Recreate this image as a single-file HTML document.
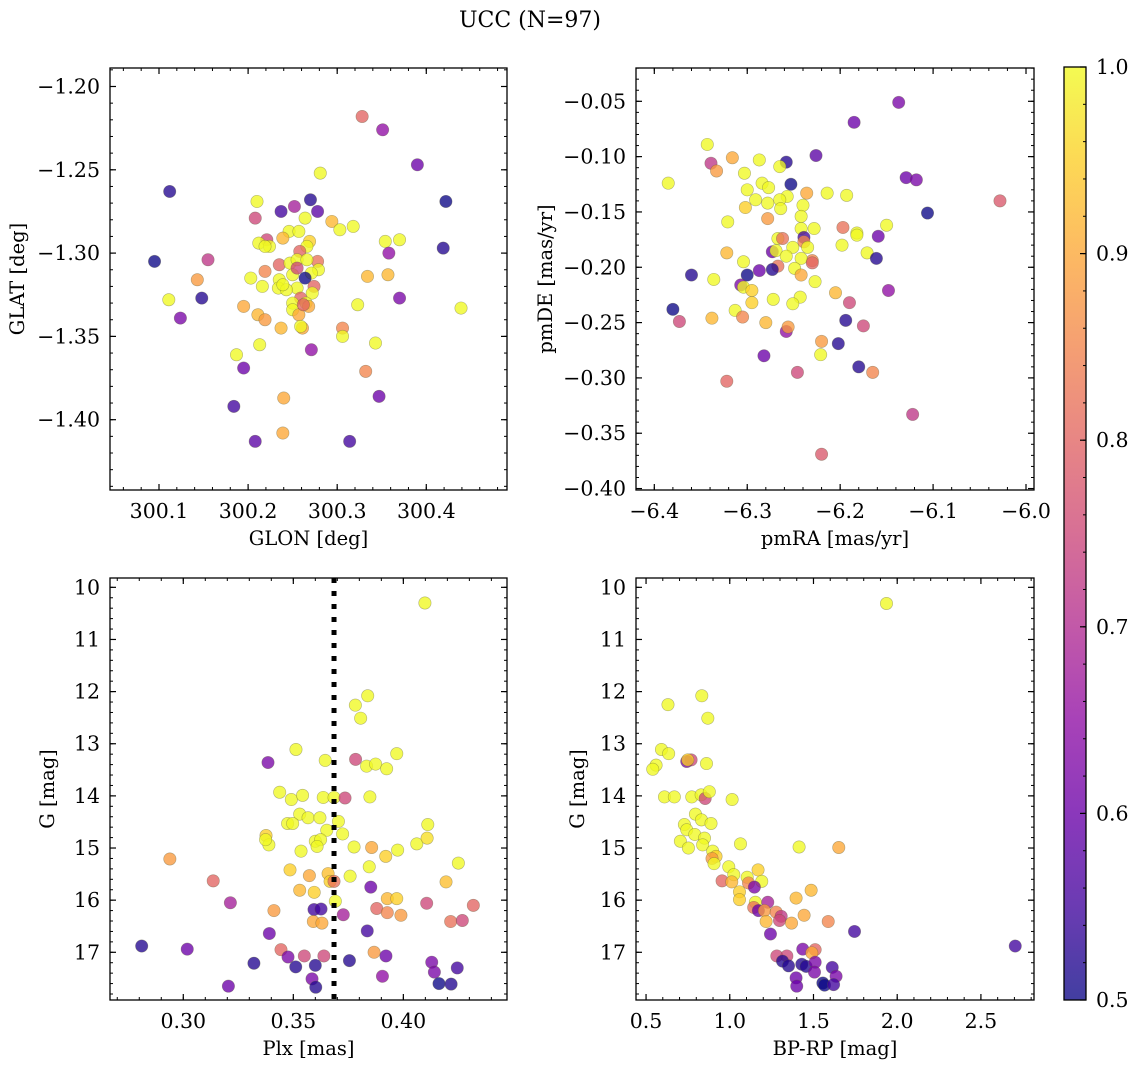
<!DOCTYPE html>
<html><head><meta charset="utf-8"><style>
html,body{margin:0;padding:0;background:#fff}
svg{display:block;font-family:"DejaVu Serif","Liberation Serif",serif}
</style></head><body>
<svg id="fig" width="1136" height="1067" viewBox="0 0 1136 1067" xmlns="http://www.w3.org/2000/svg">
<defs>
<linearGradient id="cbgrad" x1="0" y1="1" x2="0" y2="0">
<stop offset="0" stop-color="#0d0887"/><stop offset="0.1" stop-color="#41049d"/><stop offset="0.2" stop-color="#6a00a8"/><stop offset="0.3" stop-color="#8f0da4"/><stop offset="0.4" stop-color="#b12a90"/><stop offset="0.5" stop-color="#cc4778"/><stop offset="0.6" stop-color="#e16462"/><stop offset="0.7" stop-color="#f2844b"/><stop offset="0.8" stop-color="#fca636"/><stop offset="0.9" stop-color="#fcce25"/><stop offset="1" stop-color="#f0f921"/>
</linearGradient>
</defs>
<text x="530" y="27" font-size="22" text-anchor="middle">UCC (N=97)</text>
<g id="root"></g>
</svg>
<script>
// ---- Panel 1: GLON / GLAT ----
const glon=[300.328,300.351,300.390,300.281,300.112,300.422,300.210,300.270,300.237,300.252,300.278,300.208,300.264,300.294,300.318,300.303,300.246,300.257,300.239,300.269,300.221,300.212,300.224,300.219,300.266,300.354,300.370,300.358,300.419,300.095,300.155,300.258,300.235,300.247,300.255,300.278,300.266,300.279,300.219,300.271,300.250,300.264,300.143,300.334,300.357,300.203,300.235,300.216,300.274,300.255,300.234,300.243,300.272,300.111,300.148,300.370,300.259,300.265,300.250,300.268,300.323,300.439,300.195,300.250,300.257,300.211,300.124,300.219,300.237,300.261,300.259,300.306,300.306,300.343,300.213,300.271,300.187,300.195,300.332,300.347,300.240,300.184,300.239,300.208,300.314,300.255,300.239,300.262];
const glat=[-1.218,-1.226,-1.247,-1.252,-1.263,-1.269,-1.269,-1.268,-1.275,-1.272,-1.275,-1.279,-1.279,-1.281,-1.284,-1.286,-1.287,-1.287,-1.291,-1.293,-1.292,-1.294,-1.296,-1.296,-1.296,-1.293,-1.292,-1.300,-1.297,-1.305,-1.304,-1.299,-1.307,-1.306,-1.304,-1.305,-1.304,-1.310,-1.311,-1.312,-1.313,-1.315,-1.316,-1.314,-1.313,-1.315,-1.316,-1.320,-1.320,-1.321,-1.321,-1.322,-1.324,-1.328,-1.327,-1.327,-1.327,-1.330,-1.330,-1.332,-1.331,-1.333,-1.332,-1.334,-1.337,-1.337,-1.339,-1.340,-1.345,-1.345,-1.344,-1.345,-1.350,-1.354,-1.355,-1.358,-1.361,-1.369,-1.371,-1.386,-1.387,-1.392,-1.408,-1.413,-1.413,-1.309,-1.319,-1.331];
const prob1=[0.8,0.65,0.6,1,0.52,0.5,1,0.52,0.55,0.68,0.58,0.75,1,0.92,1,1,1,1,0.92,0.95,0.75,1,1,1,1,1,1,0.65,0.52,0.5,0.72,0.8,0.8,1,1,0.82,1,1,0.85,1,1,0.5,0.88,0.92,0.92,1,1,1,0.8,1,1,1,1,1,0.52,0.62,0.8,1,1,0.9,1,1,0.9,1,0.9,0.92,0.62,0.88,0.92,0.9,1,0.85,1,1,1,0.65,1,0.6,0.85,0.6,0.9,0.55,0.9,0.58,0.55,0.75,1,0.8];
// ---- Panel 2: pmRA / pmDE ----
const pmra=[-6.137,-6.185,-6.343,-6.226,-6.339,-6.316,-6.287,-6.258,-6.333,-6.265,-6.385,-6.303,-6.253,-6.129,-6.118,-6.284,-6.277,-6.300,-6.236,-6.214,-6.193,-6.257,-6.291,-6.278,-6.265,-6.028,-6.302,-6.264,-6.240,-6.106,-6.242,-6.278,-6.321,-6.150,-6.197,-6.228,-6.242,-6.182,-6.182,-6.159,-6.239,-6.267,-6.262,-6.239,-6.198,-6.251,-6.235,-6.273,-6.269,-6.322,-6.171,-6.258,-6.161,-6.230,-6.242,-6.304,-6.230,-6.267,-6.273,-6.287,-6.249,-6.360,-6.300,-6.242,-6.336,-6.227,-6.307,-6.304,-6.295,-6.148,-6.205,-6.243,-6.272,-6.295,-6.190,-6.251,-6.380,-6.313,-6.305,-6.338,-6.373,-6.194,-6.175,-6.280,-6.258,-6.256,-6.220,-6.202,-6.221,-6.282,-6.246,-6.180,-6.165,-6.322,-6.122,-6.220];
const pmde=[-0.051,-0.069,-0.089,-0.099,-0.106,-0.101,-0.103,-0.105,-0.113,-0.109,-0.124,-0.115,-0.125,-0.119,-0.121,-0.124,-0.128,-0.130,-0.133,-0.133,-0.135,-0.136,-0.139,-0.142,-0.139,-0.140,-0.146,-0.147,-0.144,-0.151,-0.154,-0.156,-0.159,-0.162,-0.164,-0.165,-0.165,-0.169,-0.171,-0.172,-0.173,-0.174,-0.174,-0.177,-0.180,-0.182,-0.182,-0.186,-0.185,-0.187,-0.187,-0.190,-0.192,-0.194,-0.192,-0.195,-0.196,-0.199,-0.202,-0.203,-0.201,-0.207,-0.207,-0.207,-0.211,-0.213,-0.216,-0.218,-0.221,-0.221,-0.223,-0.227,-0.229,-0.232,-0.232,-0.233,-0.238,-0.239,-0.245,-0.246,-0.249,-0.248,-0.253,-0.250,-0.258,-0.254,-0.267,-0.269,-0.279,-0.280,-0.295,-0.290,-0.295,-0.303,-0.333,-0.369];
const prob2=[0.62,0.6,1,0.58,0.72,0.9,1,0.52,0.88,1,1,1,0.5,0.6,0.62,1,1,1,0.9,1,1,1,1,1,1,0.78,0.95,1,1,0.5,1,0.88,1,1,0.82,1,1,1,1,0.6,0.55,1,0.82,0.85,1,1,1,0.6,1,0.92,1,1,0.52,0.85,1,1,0.8,0.82,0.52,0.6,1,0.52,0.5,0.9,1,1,0.62,1,0.95,0.65,0.92,1,1,0.95,0.75,1,0.5,1,0.85,0.92,0.75,0.52,0.75,0.92,0.65,0.88,0.88,0.52,1,0.6,0.75,0.52,0.85,0.8,0.72,0.78];
// ---- Panel 3: Plx / G ----
const plx=[0.4098,0.3838,0.3782,0.3806,0.3512,0.3970,0.3385,0.3645,0.3783,0.3833,0.3874,0.3924,0.3438,0.3491,0.3542,0.3636,0.3685,0.3735,0.3848,0.3529,0.3567,0.3621,0.3705,0.3474,0.3497,0.3652,0.3724,0.4111,0.3376,0.3389,0.3374,0.3600,0.3624,0.3608,0.3535,0.3776,0.3856,0.3920,0.3974,0.4061,0.4108,0.2939,0.4250,0.3485,0.3573,0.3658,0.3667,0.3685,0.3758,0.3845,0.3136,0.4194,0.3852,0.3529,0.3595,0.3691,0.3214,0.3927,0.3970,0.4106,0.4318,0.3412,0.3594,0.3626,0.3727,0.3879,0.3927,0.3989,0.3591,0.3630,0.4215,0.4268,0.3391,0.3836,0.2811,0.3018,0.3444,0.3867,0.3476,0.3550,0.3639,0.3755,0.3921,0.3321,0.3511,0.3600,0.4129,0.4245,0.4141,0.3905,0.3585,0.3205,0.3602,0.4162,0.4217];
const gmag3=[10.30,12.08,12.26,12.51,13.11,13.19,13.36,13.32,13.30,13.43,13.39,13.48,13.93,14.07,13.99,14.03,14.03,14.04,14.02,14.35,14.42,14.42,14.49,14.53,14.53,14.66,14.73,14.55,14.76,14.94,14.84,14.87,14.84,14.97,15.06,14.98,14.99,15.16,15.04,14.92,14.81,15.21,15.29,15.42,15.53,15.49,15.64,15.64,15.54,15.36,15.63,15.65,15.75,15.81,15.85,16.02,16.05,15.97,15.97,16.06,16.10,16.20,16.18,16.17,16.28,16.16,16.24,16.29,16.41,16.44,16.41,16.39,16.64,16.59,16.88,16.94,16.95,17.00,17.09,17.07,17.07,17.16,17.07,17.21,17.28,17.25,17.19,17.30,17.38,17.46,17.51,17.65,17.67,17.60,17.61];
const prob3=[1,1,1,1,1,1,0.62,1,0.75,1,1,1,1,1,1,1,1,0.75,1,1,1,1,1,1,1,1,1,1,0.95,1,1,1,1,1,1,1,0.9,0.95,1,1,0.97,0.88,1,0.95,0.9,0.93,0.95,0.82,1,1,0.8,0.93,0.6,0.92,0.95,1,0.68,0.92,0.95,0.75,0.8,0.88,0.55,0.55,0.68,0.8,0.85,0.88,0.9,0.9,0.82,0.75,0.6,0.55,0.52,0.6,0.8,0.88,0.62,0.75,0.75,0.52,0.6,0.52,0.52,0.52,0.62,0.55,0.62,0.65,0.62,0.6,0.52,0.5,0.52];
const plxCut=[0.3685];
// ---- Panel 4: BP-RP / G ----
const bprp=[1.936,0.833,0.631,0.869,0.592,0.635,0.769,0.743,0.749,0.861,0.560,0.540,0.610,0.669,0.773,0.829,0.853,0.878,1.014,0.795,0.831,0.888,0.729,0.743,0.791,0.705,0.849,0.838,0.753,1.064,1.414,1.651,0.898,0.918,0.894,0.906,0.994,1.024,0.954,1.012,1.104,1.169,1.191,1.112,1.147,1.058,1.058,1.153,1.227,1.396,1.486,1.143,1.171,1.207,1.277,1.307,1.297,1.217,1.369,1.444,1.588,1.243,1.745,2.705,1.436,1.510,1.490,1.281,1.341,1.315,1.351,1.430,1.456,1.510,1.506,1.612,1.635,1.396,1.400,1.556,1.566,1.620];
const gmag4=[10.31,12.08,12.25,12.51,13.11,13.19,13.31,13.34,13.31,13.38,13.41,13.49,14.02,14.02,14.02,13.98,14.05,13.92,14.07,14.35,14.46,14.53,14.55,14.65,14.74,14.87,14.81,14.94,15.00,14.92,14.98,14.99,15.06,15.16,15.20,15.30,15.36,15.51,15.63,15.65,15.56,15.42,15.64,15.67,15.75,15.84,15.99,16.04,16.04,15.96,15.81,16.14,16.20,16.20,16.23,16.31,16.39,16.41,16.44,16.29,16.41,16.65,16.60,16.88,16.94,16.95,17.01,17.07,17.07,17.17,17.26,17.23,17.27,17.19,17.38,17.29,17.46,17.49,17.65,17.59,17.63,17.62];
const prob4=[1,1,1,1,1,1,0.75,0.62,0.95,1,1,1,1,1,1,1,0.75,1,1,1,1,1,1,1,1,1,1,1,1,1,1,0.9,1,0.95,0.88,1,1,1,0.8,0.92,1,0.95,1,0.85,0.62,0.95,0.95,1,0.68,0.92,0.92,0.82,0.6,0.88,0.85,0.72,0.75,0.92,0.9,0.9,0.85,0.6,0.55,0.55,0.62,0.8,0.9,0.75,0.75,0.52,0.52,0.52,0.52,0.62,0.62,0.55,0.62,0.6,0.6,0.5,0.5,0.55];
// ---- tick labels ----
const ticks1x=[300.1,300.2,300.3,300.4], ticks1xLab=["300.1","300.2","300.3","300.4"];
const ticks1y=[-1.20,-1.25,-1.30,-1.35,-1.40], ticks1yLab=["\u22121.20","\u22121.25","\u22121.30","\u22121.35","\u22121.40"];
const ticks2x=[-6.4,-6.3,-6.2,-6.1,-6.0], ticks2xLab=["\u22126.4","\u22126.3","\u22126.2","\u22126.1","\u22126.0"];
const ticks2y=[-0.05,-0.10,-0.15,-0.20,-0.25,-0.30,-0.35,-0.40], ticks2yLab=["\u22120.05","\u22120.10","\u22120.15","\u22120.20","\u22120.25","\u22120.30","\u22120.35","\u22120.40"];
const ticks3x=[0.30,0.35,0.40], ticks3xLab=["0.30","0.35","0.40"];
const ticksG=[10,11,12,13,14,15,16,17], ticksGLab=["10","11","12","13","14","15","16","17"];
const ticks4x=[0.5,1.0,1.5,2.0,2.5], ticks4xLab=["0.5","1.0","1.5","2.0","2.5"];
const ticksCb=[0.5,0.6,0.7,0.8,0.9,1.0], ticksCbLab=["0.5","0.6","0.7","0.8","0.9","1.0"];

const NS="http://www.w3.org/2000/svg";
const root=document.getElementById('root');
const stops=[[13,8,135],[65,4,157],[106,0,168],[143,13,164],[177,42,144],[204,71,120],[225,100,98],[242,132,75],[252,166,54],[252,206,37],[240,249,33]];
function plasma(p){let t=Math.max(0,Math.min(1,(p-0.5)/0.5))*10;let i=Math.min(9,Math.floor(t)),f=t-i;const a=stops[i],b=stops[i+1];return 'rgb('+a.map((v,k)=>Math.round(v+(b[k]-v)*f)).join(',')+')';}
function mk(tag,attrs,parent){const e=document.createElementNS(NS,tag);for(const k in attrs)e.setAttribute(k,attrs[k]);(parent||root).appendChild(e);return e;}
const TF=20.5, LF=19.5;
function panel(o){
  const g=mk('g',{});
  
  
  const sx=v=>o.x0+(v-o.xmin)/(o.xmax-o.xmin)*(o.x1-o.x0);
  const sy=v=>o.yinv? o.y0+(v-o.ymin)/(o.ymax-o.ymin)*(o.y1-o.y0) : o.y1-(v-o.ymin)/(o.ymax-o.ymin)*(o.y1-o.y0);
  for(let v=Math.ceil(o.xmin/o.xminor-1e-6)*o.xminor; v<=o.xmax+1e-9; v+=o.xminor){const x=sx(v);
    mk('line',{x1:x,x2:x,y1:o.y1,y2:o.y1-3,stroke:'#000','stroke-width':1},g);mk('line',{x1:x,x2:x,y1:o.y0,y2:o.y0+3,stroke:'#000','stroke-width':1},g);}
  for(let v=Math.ceil(o.ymin/o.yminor-1e-6)*o.yminor; v<=o.ymax+1e-9; v+=o.yminor){const y=sy(v);
    mk('line',{x1:o.x0,x2:o.x0+3,y1:y,y2:y,stroke:'#000','stroke-width':1},g);mk('line',{x1:o.x1,x2:o.x1-3,y1:y,y2:y,stroke:'#000','stroke-width':1},g);}
  o.xt.forEach((v,i)=>{const x=sx(v);
    mk('line',{x1:x,x2:x,y1:o.y1,y2:o.y1-6,stroke:'#000','stroke-width':1.2},g);mk('line',{x1:x,x2:x,y1:o.y0,y2:o.y0+6,stroke:'#000','stroke-width':1.2},g);
    const t=mk('text',{x:x,y:o.y1+28,'font-size':TF,'text-anchor':'middle'},g);t.textContent=o.xl[i];
    
    });
  o.yt.forEach((v,i)=>{const y=sy(v);
    mk('line',{x1:o.x0,x2:o.x0+6,y1:y,y2:y,stroke:'#000','stroke-width':1.2},g);mk('line',{x1:o.x1,x2:o.x1-6,y1:y,y2:y,stroke:'#000','stroke-width':1.2},g);
    const t=mk('text',{x:o.x0-10,y:y+7,'font-size':TF,'text-anchor':'end'},g);t.textContent=o.yl[i];
    
    });
  const pg=mk('g',{},g);
  
  
  o.xs.forEach((v,i)=>{const c=mk('circle',{cx:sx(v),cy:sy(o.ys[i]),r:6.2,fill:plasma(o.cs[i]),'fill-opacity':0.78,stroke:'#5a5a3a','stroke-opacity':0.45,'stroke-width':0.6},pg);
    
    });
  if(o.vline){o.vline.forEach(v=>{const l=mk('line',{x1:sx(v),x2:sx(v),y1:o.y0,y2:o.y1,stroke:'#000','stroke-width':5,'stroke-dasharray':'5 8'},g);
    
    });}
  const fr=mk('rect',{x:o.x0,y:o.y0,width:o.x1-o.x0,height:o.y1-o.y0,fill:'none',stroke:'#000','stroke-width':1.3},g);
  
  
  const xl=mk('text',{x:(o.x0+o.x1)/2,y:o.y1+55,'font-size':LF,'text-anchor':'middle'},g);xl.textContent=o.xlabel;
  
  
  const yl=mk('text',{x:o.ylx,y:(o.y0+o.y1)/2,'font-size':LF,'text-anchor':'middle',transform:'rotate(-90 '+o.ylx+' '+((o.y0+o.y1)/2)+')'},g);yl.textContent=o.ylabel;
  
  
}
panel({name:'position-panel',x0:110,x1:507,y0:68,y1:490,xmin:300.045,xmax:300.4906,ymin:-1.4422,ymax:-1.1889,xminor:0.02,yminor:0.01,
  xt:ticks1x,xl:ticks1xLab,yt:ticks1y,yl:ticks1yLab,xs:glon,ys:glat,cs:prob1,xlabel:'GLON [deg]',ylabel:'GLAT [deg]',ylx:24});
panel({name:'proper-motion-panel',x0:636,x1:1034,y0:68,y1:490,xmin:-6.4197,xmax:-5.9914,ymin:-0.4013,ymax:-0.0199,xminor:0.02,yminor:0.01,
  xt:ticks2x,xl:ticks2xLab,yt:ticks2y,yl:ticks2yLab,xs:pmra,ys:pmde,cs:prob2,xlabel:'pmRA [mas/yr]',ylabel:'pmDE [mas/yr]',ylx:552});
panel({name:'parallax-panel',x0:110,x1:507,y0:578,y1:1000,xmin:0.2667,xmax:0.4471,ymin:9.821,ymax:17.915,yinv:true,xminor:0.01,yminor:0.2,
  xt:ticks3x,xl:ticks3xLab,yt:ticksG,yl:ticksGLab,xs:plx,ys:gmag3,cs:prob3,vline:plxCut,xlabel:'Plx [mas]',ylabel:'G [mag]',ylx:54});
panel({name:'cmd-panel',x0:636,x1:1034,y0:578,y1:1000,xmin:0.44,xmax:2.817,ymin:9.821,ymax:17.915,yinv:true,xminor:0.1,yminor:0.2,
  xt:ticks4x,xl:ticks4xLab,yt:ticksG,yl:ticksGLab,xs:bprp,ys:gmag4,cs:prob4,xlabel:'BP-RP [mag]',ylabel:'G [mag]',ylx:584});

const cb=mk('g',{});


const cx0=1064,cx1=1086,cy0=67,cy1=1000;
mk('rect',{x:cx0,y:cy0,width:cx1-cx0,height:cy1-cy0,fill:'url(#cbgrad)','fill-opacity':0.78},cb);
const cys=v=>cy1-(v-0.5)/0.5*(cy1-cy0);
for(let v=0.52;v<0.999;v+=0.02){mk('line',{x1:cx1,x2:cx1-3,y1:cys(v),y2:cys(v),stroke:'#000','stroke-width':1},cb);}
ticksCb.forEach((v,i)=>{mk('line',{x1:cx1,x2:cx1-6,y1:cys(v),y2:cys(v),stroke:'#000','stroke-width':1.2},cb);
  const t=mk('text',{x:cx1+10,y:cys(v)+7,'font-size':TF},cb);t.textContent=ticksCbLab[i];
  
  });
mk('rect',{x:cx0,y:cy0,width:cx1-cx0,height:cy1-cy0,fill:'none',stroke:'#000','stroke-width':1.3},cb);
</script>
</body></html>
